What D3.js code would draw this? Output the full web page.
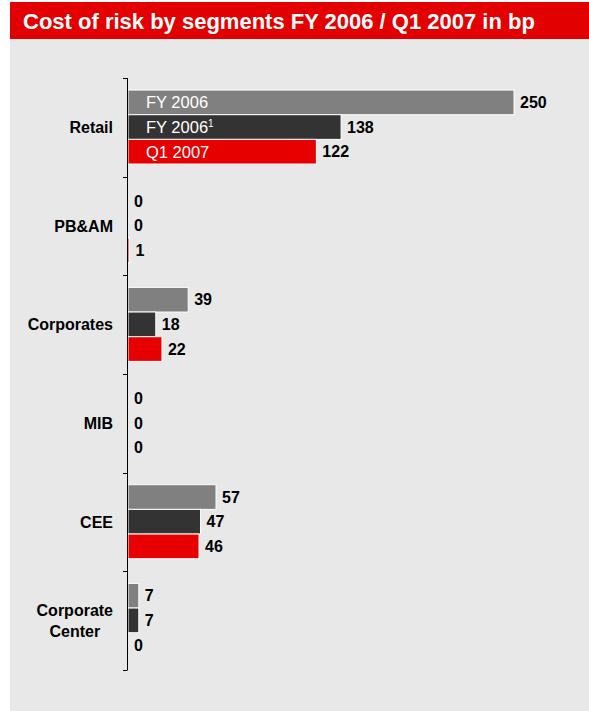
<!DOCTYPE html>
<html>
<head>
<meta charset="utf-8">
<script src="https://cdn.jsdelivr.net/npm/d3@7/dist/d3.min.js"></script>
<style>
  html, body { margin: 0; padding: 0; background: #fff; }
  svg { display: block; font-family: "Liberation Sans", Arial, sans-serif; }
</style>
</head>
<body>
<svg id="chart" width="589" height="711"></svg>
<script>
// Segments (top to bottom); "\n" splits a label over two lines
const segments = ["Retail", "PB&AM", "Corporates", "MIB", "CEE", "Corporate\nCenter"];
// Series names shown inside the Retail bars
const seriesNames = ["FY 2006", "FY 2006", "Q1 2007"];
const seriesNotes = ["", "1", ""];
// Cost of risk in basis points, one array per series
const fy2006 = [250, 0, 39, 0, 57, 7];
const fy2006adj = [138, 0, 18, 0, 47, 7];
const q12007 = [122, 1, 22, 0, 46, 0];
const seriesColors = ["#808080", "#333333", "#e60000"];

const title = "Cost of risk by segments FY 2006 / Q1 2007 in bp";

(function draw() {
  const svg = d3.select("#chart");
  const W = 589, H = 711;

  // Header band and panel
  svg.append("rect").attr("x", 10).attr("y", 2).attr("width", W - 10).attr("height", 37).attr("fill", "#e20000");
  svg.append("rect").attr("x", 10).attr("y", 39).attr("width", W - 10).attr("height", H - 39).attr("fill", "#e8e8e8");
  svg.append("text").attr("x", 23).attr("y", 29)
    .attr("fill", "#fff").attr("font-size", 22).attr("font-weight", "bold")
    .text(title);

  const axisX = 127;
  const yTop = 78, yBottom = 670;

  const x = d3.scaleLinear().domain([0, 250]).range([axisX + 1, axisX + 1 + 386]);
  const y = d3.scaleBand().domain(d3.range(segments.length)).range([yTop, yBottom]).padding(0);
  const inner = d3.scaleBand().domain([0, 1, 2])
    .range([y.bandwidth() * 0.122, y.bandwidth() * 0.872]).padding(0);

  const series = [fy2006, fy2006adj, q12007];

  // Bars and value labels
  const g = svg.append("g");
  segments.forEach((seg, i) => {
    series.forEach((vals, s) => {
      const v = vals[i];
      const y0 = y(i) + inner(s);
      if (v > 0) {
        g.append("rect")
          .attr("x", x(0))
          .attr("y", y0)
          .attr("width", x(v) - x(0))
          .attr("height", inner.bandwidth())
          .attr("fill", seriesColors[s])
          .attr("stroke", "#ffffff")
          .attr("stroke-width", 1);
      }
      g.append("text")
        .attr("x", Math.max(x(v), x(0)) + 6)
        .attr("y", y0 + inner.bandwidth() / 2)
        .attr("dy", "0.36em")
        .attr("font-size", 16).attr("font-weight", "bold").attr("fill", "#000")
        .text(v);
    });
  });

  // Series names inside the first segment's bars
  seriesNames.forEach((name, s) => {
    const t = g.append("text")
      .attr("x", 146)
      .attr("y", y(0) + inner(s) + inner.bandwidth() / 2)
      .attr("dy", "0.36em")
      .attr("font-size", 16.5).attr("fill", "#fff")
      .text(name);
    if (seriesNotes[s]) {
      t.append("tspan").attr("font-size", 10).attr("dy", "-0.6em").text(seriesNotes[s]);
    }
  });

  // Axis line with ticks at segment boundaries
  const ax = svg.append("g").attr("stroke", "#000").attr("stroke-width", 1);
  ax.append("line").attr("x1", axisX + 0.5).attr("x2", axisX + 0.5).attr("y1", yTop).attr("y2", yBottom);
  const bounds = d3.range(segments.length + 1).map(i => i < segments.length ? y(i) : yBottom);
  bounds.forEach(b => {
    ax.append("line").attr("x1", axisX - 4).attr("x2", axisX + 0.5)
      .attr("y1", Math.round(b) + 0.5).attr("y2", Math.round(b) + 0.5);
  });

  // Segment labels, right edge of each block at x = 113
  segments.forEach((seg, i) => {
    const lines = seg.split("\n");
    const cy = y(i) + y.bandwidth() / 2;
    const lh = 21;
    const grp = svg.append("g");
    const texts = lines.map((ln, k) => grp.append("text")
      .attr("y", cy + (k - (lines.length - 1) / 2) * lh)
      .attr("dy", "0.36em")
      .attr("font-size", 16).attr("font-weight", "bold").attr("fill", "#000")
      .text(ln));
    const wMax = d3.max(texts, t => t.node().getComputedTextLength());
    texts.forEach(t => t.attr("x", 113 - wMax / 2).attr("text-anchor", "middle"));
  });
})();
</script>
</body>
</html>
